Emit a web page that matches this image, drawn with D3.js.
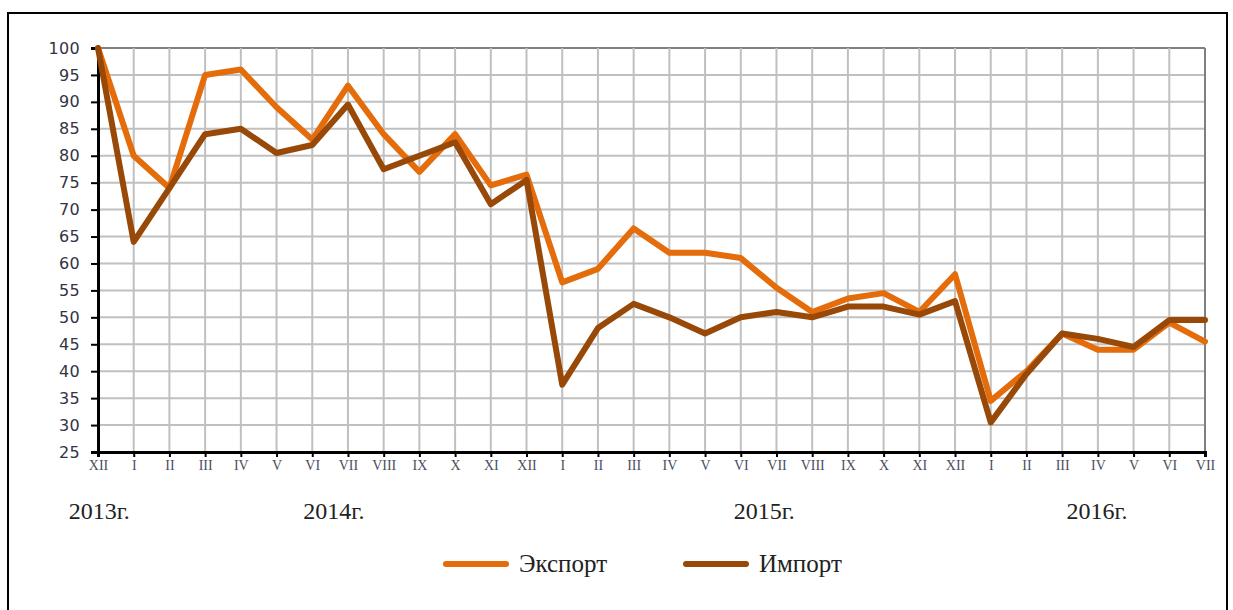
<!DOCTYPE html>
<html>
<head>
<meta charset="utf-8">
<script src="https://cdn.jsdelivr.net/npm/d3@7"></script>
<style>
    body { margin: 0; background: #fff; }
    svg { display: block; }
</style>
</head>
<body>
<div id="chart"></div>
<script>

// Months from XII 2013 to VII 2016
const months = ["XII","I","II","III","IV","V","VI","VII","VIII","IX","X","XI","XII",
    "I","II","III","IV","V","VI","VII","VIII","IX","X","XI","XII",
    "I","II","III","IV","V","VI","VII"];

const exportValues = [100, 80, 74, 95, 96, 89, 83, 93, 84, 77, 84, 74.5, 76.5,
    56.5, 59, 66.5, 62, 62, 61, 55.5, 51, 53.5, 54.5, 51, 58,
    34.5, 40, 47, 44, 44, 49, 45.5];

const importValues = [100, 64, 74, 84, 85, 80.5, 82, 89.5, 77.5, 80, 82.5, 71, 75.5,
    37.5, 48, 52.5, 50, 47, 50, 51, 50, 52, 52, 50.5, 53,
    30.5, 39.5, 47, 46, 44.5, 49.5, 49.5];

const yTicks = [25, 30, 35, 40, 45, 50, 55, 60, 65, 70, 75, 80, 85, 90, 95, 100];

// year labels and the month index where each label starts
const yearLabels = ["2013г.", "2014г.", "2015г.", "2016г."];
const yearStart = [-0.82, 5.75, 17.8, 27.12];

const seriesNames = ["Экспорт", "Импорт"];
const seriesColors = ["#e46c0a", "#984807"];

let svg = d3.select("#chart").append("svg")
    .attr("width", 1233)
    .attr("height", 610);

// outer frame
svg.append("rect")
    .attr("x", 8)
    .attr("y", 13)
    .attr("width", 1219)
    .attr("height", 620)
    .attr("fill", "none")
    .attr("stroke", "#000")
    .attr("stroke-width", 2);

let margin = { top: 48, left: 98 };
let width = 1205 - margin.left;
let height = 452 - margin.top;

let g = svg.append("g")
    .attr("transform", "translate(" + margin.left + "," + margin.top + ")");

let idx = months.map((d, i) => i);

let x = d3.scaleLinear()
    .domain([0, months.length - 1])
    .range([0, width]);

let y = d3.scaleLinear()
    .domain([25, 100])
    .range([height, 0]);

// grid
g.append("g")
    .selectAll("line")
    .data(yTicks.slice(1))
    .join("line")
    .attr("x1", 0)
    .attr("x2", width)
    .attr("y1", d => y(d))
    .attr("y2", d => y(d))
    .attr("stroke", d => d === 100 ? "#808080" : "#c0c0c0")
    .attr("stroke-width", 2);

g.append("g")
    .selectAll("line")
    .data(idx.slice(1))
    .join("line")
    .attr("x1", d => x(d))
    .attr("x2", d => x(d))
    .attr("y1", 0)
    .attr("y2", height)
    .attr("stroke", d => d === months.length - 1 ? "#808080" : "#c0c0c0")
    .attr("stroke-width", 2);

// axes
let yAxis = d3.axisLeft(y)
    .tickValues(yTicks)
    .tickSize(7)
    .tickPadding(11);

let xAxis = d3.axisBottom(x)
    .tickValues(idx)
    .tickFormat(i => months[i])
    .tickSize(5)
    .tickPadding(3);

let yG = g.append("g").attr("class", "axis y-axis").call(yAxis);
yG.select(".domain").attr("stroke", "#000").attr("stroke-width", 3);
yG.selectAll("line").attr("stroke", "#000").attr("stroke-width", 2);
yG.selectAll("text")
    .attr("font-family", "DejaVu Sans")
    .attr("font-size", 16)
    .attr("letter-spacing", 0.3)
    .attr("fill", "#333344");

let xG = g.append("g")
    .attr("class", "axis x-axis")
    .attr("transform", "translate(0," + height + ")")
    .call(xAxis);
xG.select(".domain").attr("stroke", "#000").attr("stroke-width", 3);
xG.selectAll("line").attr("stroke", "#000").attr("stroke-width", 2);
xG.selectAll("text")
    .attr("font-family", "Liberation Serif")
    .attr("font-size", 14)
    .attr("fill", "#4a5060");

// lines
const line = d3.line()
    .x((d, i) => x(i))
    .y(d => y(d));

[exportValues, importValues].forEach((vals, k) => {
    g.append("path")
        .attr("d", line(vals))
        .attr("fill", "none")
        .attr("stroke", seriesColors[k])
        .attr("stroke-width", 6)
        .attr("stroke-linejoin", "round")
        .attr("stroke-linecap", "round");
});

// years
g.selectAll(".year")
    .data(yearLabels)
    .join("text")
    .attr("class", "year")
    .attr("x", (d, i) => x(yearStart[i]))
    .attr("y", 519 - margin.top)
    .attr("font-family", "Liberation Serif")
    .attr("font-size", 24)
    .attr("fill", "#222")
    .text(d => d);

// legend
let legend = svg.append("g");
let legendX = [446, 686];
seriesNames.forEach((name, k) => {
    legend.append("line")
        .attr("x1", legendX[k])
        .attr("x2", legendX[k] + 60)
        .attr("y1", 564)
        .attr("y2", 564)
        .attr("stroke", seriesColors[k])
        .attr("stroke-width", 6)
        .attr("stroke-linecap", "round");
    legend.append("text")
        .attr("x", legendX[k] + 73)
        .attr("y", 572)
        .attr("font-family", "Liberation Serif")
        .attr("font-size", 25)
        .attr("fill", "#222")
        .text(name);
});

</script>
</body>
</html>
